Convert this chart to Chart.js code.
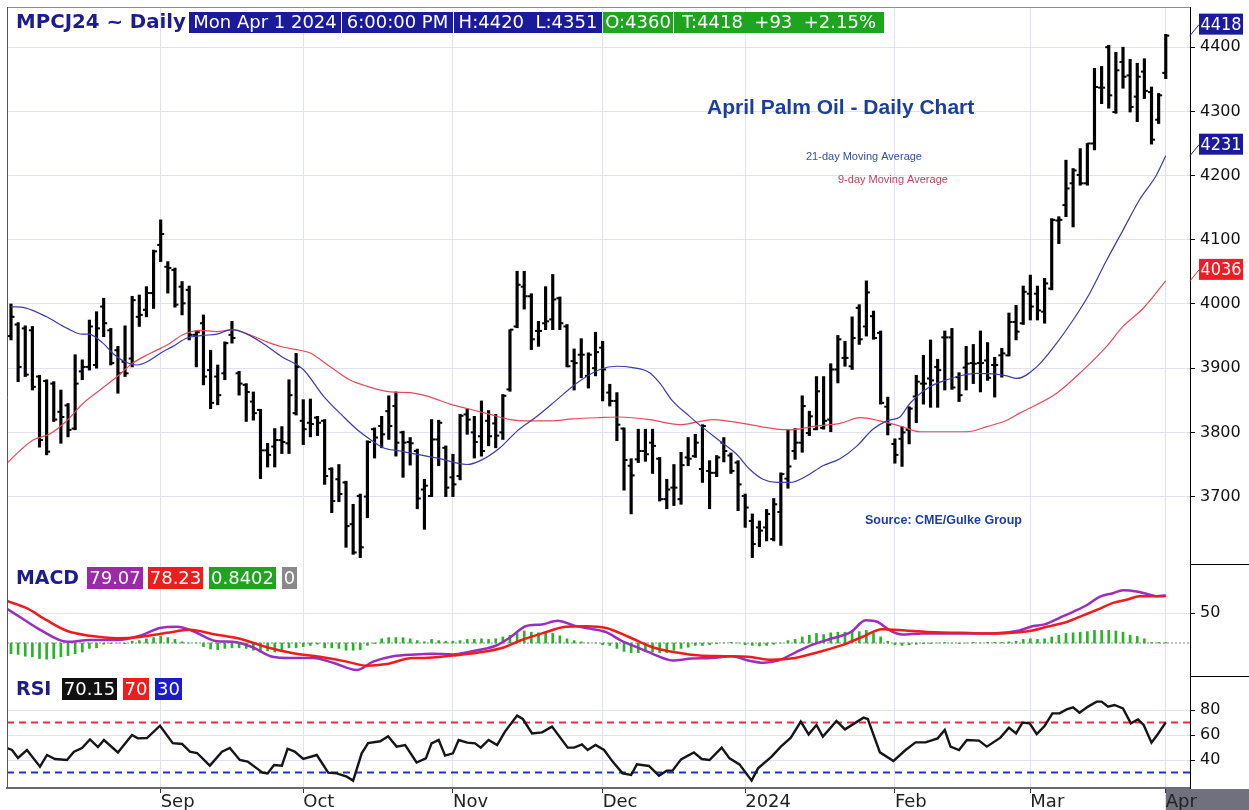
<!DOCTYPE html>
<html lang="en">
<head>
<meta charset="UTF-8">
<title>April Palm Oil - Daily Chart</title>
<script src="https://cdn.jsdelivr.net/npm/chart.js"></script>
<style>
    html, body { margin: 0; padding: 0; background: #fff; }
    canvas { display: block; }
</style>
</head>
<body>
<canvas id="chart" width="1249" height="810"></canvas>
<script>
// daily bars, mid Aug 2023 .. Apr 1 2024 (index 0 = first bar)
const opens = [
    3950, 3968, 3962, 3959, 3887, 3880, 3876, 3832, 3842, 3806,
    3895, 3902, 3905, 3996, 3959, 3928, 3910, 3915, 3980, 3991,
    4017, 4092, 4058, 4053, 4027, 4022, 3952, 3970, 3897, 3887,
    3892, 3952, 3892, 3874, 3848, 3835, 3772, 3778, 3788, 3783,
    3830, 3818, 3815, 3823, 3818, 3743, 3727, 3722, 3657, 3701,
    3700, 3805, 3810, 3833, 3841, 3800, 3785, 3771, 3711, 3701,
    3789, 3776, 3730, 3732, 3828, 3800, 3794, 3818, 3814, 3800,
    3867, 3965, 4027, 4012, 3958, 3970, 3976, 4009, 3965, 3911,
    3921, 3888, 3900, 3932, 3862, 3849, 3806, 3748, 3758, 3771,
    3784, 3759, 3696, 3714, 3696, 3761, 3763, 3743, 3740, 3737,
    3784, 3764, 3753, 3701, 3662, 3652, 3652, 3634, 3676, 3728,
    3771, 3784, 3799, 3805, 3807, 3820, 3898, 3916, 3903, 3994,
    3965, 3981, 3955, 3840, 3782, 3790, 3804, 3856, 3876, 3884,
    3902, 3948, 3948, 3886, 3901, 3908, 3908, 3912, 3905, 3920,
    3920, 3972, 3970, 4016, 4016, 3988, 4024, 4130, 4154, 4188,
    4201, 4188, 4250, 4337, 4400, 4299, 4377, 4356, 4323, 4362,
    4330, 4287, 4360
];
const highs = [
    4000, 3971, 3966, 3965, 3889, 3882, 3879, 3866, 3845, 3921,
    3913, 3975, 3988, 4009, 3962, 3934, 3966, 4012, 4014, 4027,
    4084, 4131, 4066, 4056, 4035, 4028, 3957, 3983, 3928, 3905,
    3941, 3973, 3895, 3876, 3863, 3836, 3783, 3806, 3809, 3882,
    3923, 3851, 3852, 3825, 3820, 3745, 3750, 3724, 3688, 3704,
    3787, 3807, 3825, 3857, 3863, 3802, 3792, 3774, 3727, 3820,
    3819, 3779, 3766, 3828, 3837, 3825, 3849, 3834, 3828, 3859,
    3960, 4051, 4051, 4016, 3973, 4027, 4046, 4011, 3968, 3930,
    3946, 3924, 3956, 3942, 3875, 3862, 3807, 3759, 3805, 3805,
    3805, 3761, 3727, 3750, 3769, 3792, 3797, 3812, 3756, 3764,
    3792, 3768, 3756, 3704, 3673, 3662, 3680, 3697, 3737, 3804,
    3806, 3857, 3833, 3887, 3887, 3907, 3951, 3942, 3980, 3999,
    4036, 3989, 3958, 3855, 3790, 3809, 3840, 3889, 3920, 3944,
    3914, 3958, 3962, 3893, 3934, 3937, 3958, 3940, 3917, 3931,
    3986, 3998, 4028, 4045, 4028, 4040, 4133, 4136, 4224, 4211,
    4242, 4250, 4367, 4370, 4403, 4392, 4400, 4381, 4375, 4382,
    4338, 4328, 4420
];
const lows = [
    3944, 3879, 3887, 3866, 3777, 3765, 3817, 3783, 3793, 3804,
    3882, 3897, 3900, 3949, 3905, 3861, 3887, 3902, 3965, 3980,
    3993, 4066, 4017, 3995, 3983, 3944, 3902, 3874, 3837, 3843,
    3882, 3939, 3858, 3817, 3819, 3728, 3746, 3746, 3767, 3767,
    3827, 3781, 3793, 3795, 3719, 3675, 3692, 3621, 3610, 3605,
    3667, 3760, 3776, 3789, 3763, 3730, 3749, 3681, 3649, 3700,
    3748, 3700, 3700, 3726, 3797, 3760, 3763, 3779, 3776, 3789,
    3864, 3963, 3992, 3929, 3934, 3960, 3960, 3960, 3902, 3866,
    3885, 3869, 3888, 3849, 3841, 3787, 3710, 3673, 3753, 3755,
    3736, 3693, 3681, 3686, 3688, 3748, 3761, 3722, 3681, 3731,
    3754, 3736, 3678, 3652, 3605, 3622, 3631, 3631, 3624, 3713,
    3758, 3769, 3795, 3804, 3805, 3801, 3877, 3903, 3898, 3937,
    3950, 3945, 3844, 3796, 3752, 3747, 3782, 3815, 3844, 3839,
    3839, 3866, 3867, 3848, 3866, 3876, 3863, 3881, 3855, 3886,
    3919, 3944, 3968, 3975, 3975, 3970, 4022, 4094, 4136, 4120,
    4185, 4185, 4240, 4312, 4305, 4297, 4336, 4299, 4284, 4320,
    4249, 4281, 4351
];
const closes = [
    3980, 3902, 3890, 3871, 3788, 3770, 3820, 3824, 3804, 3876,
    3902, 3965, 3962, 3970, 3908, 3892, 3892, 4006, 3983, 4017,
    4082, 4109, 4056, 3999, 4001, 3952, 3956, 3887, 3846, 3858,
    3939, 3947, 3876, 3863, 3830, 3772, 3765, 3788, 3785, 3858,
    3902, 3805, 3813, 3815, 3732, 3693, 3704, 3654, 3613, 3621,
    3785, 3792, 3797, 3810, 3784, 3784, 3783, 3697, 3717, 3789,
    3815, 3714, 3719, 3826, 3820, 3785, 3771, 3794, 3795, 3857,
    3960, 4030, 4012, 3945, 3958, 3973, 4007, 3970, 3903, 3908,
    3921, 3921, 3925, 3898, 3849, 3812, 3757, 3733, 3771, 3766,
    3779, 3696, 3711, 3714, 3749, 3759, 3784, 3810, 3737, 3761,
    3771, 3740, 3719, 3683, 3626, 3647, 3673, 3688, 3735, 3747,
    3784, 3841, 3825, 3864, 3818, 3898, 3945, 3916, 3947, 3945,
    4018, 3947, 3846, 3812, 3765, 3800, 3837, 3879, 3876, 3881,
    3897, 3948, 3870, 3858, 3907, 3907, 3908, 3885, 3905, 3923,
    3972, 3957, 4019, 3996, 3990, 4032, 4131, 4131, 4180, 4208,
    4188, 4250, 4338, 4337, 4325, 4364, 4354, 4307, 4354, 4332,
    4256, 4325, 4418
];
const macdHist = [
    -18, -19, -22, -23, -26, -27, -26, -23, -21, -18,
    -15, -9, -8, -2, -1, 0, -1, 3, 4, 7,
    9, 11, 9, 6, 2, 0, 0, -6, -10, -11,
    -9, -8, -8, -9, -12, -15, -13, -15, -11, -8,
    -8, -6, -4, -2, -8, -8, -9, -12, -12, -11,
    -4, -1, 7, 9, 9, 9, 7, 4, 2, 6,
    4, 3, 3, 4, 6, 6, 7, 6, 7, 10,
    13, 16, 20, 18, 17, 16, 16, 12, 7, 4,
    2, 0, 0, -3, -4, -9, -14, -16, -16, -14,
    -15, -16, -16, -12, -9, -7, -4, -4, -3, -1,
    0, 1, 0, -3, -4, -5, -4, -2, 0, 4,
    6, 10, 13, 16, 14, 17, 18, 18, 20, 19,
    21, 17, 10, 3, -3, -4, -3, -2, -1, -1,
    0, 1, 0, -1, 0, 1, 0, 1, 1, 1,
    2, 3, 6, 7, 6, 7, 10, 13, 16, 17,
    18, 19, 21, 21, 21, 20, 18, 13, 11, 7,
    1, 1, 0.8402
];

// [bar index, value]
const ma21 = [
    [0, 3996], [2, 3994], [5, 3980], [7.9, 3962], [10, 3953], [10.9, 3953], [12.9, 3939], [14.3, 3923],
    [16, 3910], [17.7, 3905], [19.1, 3910], [20.9, 3923], [22.7, 3934], [24.7, 3947], [26.9, 3951],
    [28.9, 3953], [31, 3960], [33.1, 3953], [35.3, 3939], [38, 3918], [41, 3898], [43.8, 3857],
    [46.6, 3825], [48.5, 3805], [50.4, 3789], [52.2, 3776], [54.6, 3771], [56.4, 3767], [58.8, 3762],
    [60.6, 3758], [62.6, 3752], [64, 3750], [66.2, 3758], [68.6, 3776], [71, 3802], [73.8, 3825],
    [76.6, 3851], [79.4, 3877], [82.6, 3898], [85, 3903], [87.2, 3901], [89.6, 3893], [91, 3877],
    [92.8, 3849], [95.2, 3825], [97.1, 3807], [99.4, 3787], [101.8, 3766], [103.6, 3743], [105.5, 3727],
    [107.4, 3722], [109.3, 3722], [111.6, 3732], [113.9, 3748], [116.3, 3759], [118.7, 3779],
    [120.9, 3805], [122.9, 3818], [124.7, 3824], [126.1, 3845], [128.9, 3871], [131.3, 3882],
    [133.5, 3889], [135.5, 3892], [137.7, 3891], [139.7, 3888], [141.1, 3884], [143.9, 3902],
    [146.7, 3939], [149, 3975], [151.3, 4016], [153.7, 4068], [156, 4115], [158.3, 4162],
    [160.7, 4201], [162, 4231]
];
const ma9 = [
    [-0.56, 3752], [1.3, 3772], [3.1, 3788], [5.5, 3798], [7.9, 3819], [10.1, 3845], [12.5, 3866],
    [14.9, 3887], [17.1, 3908], [19.5, 3923], [21.9, 3936], [24.1, 3952], [26.5, 3959], [28.9, 3957],
    [31.1, 3960], [33.5, 3952], [35.9, 3941], [38.1, 3933], [40.5, 3928], [41.9, 3924], [44.7, 3903],
    [47.5, 3882], [49.9, 3872], [53.2, 3863], [56, 3862], [58.8, 3855], [61.6, 3844], [64.4, 3836],
    [67.2, 3828], [70, 3820], [72.8, 3818], [75.6, 3818], [78.8, 3821], [82.6, 3823], [85.4, 3824],
    [89.6, 3820], [93.8, 3812], [98.5, 3820], [102.7, 3814], [107.4, 3805], [109.3, 3804], [113, 3810],
    [116.3, 3814], [119.1, 3823], [121.9, 3818], [124.7, 3810], [127.5, 3801], [131.3, 3801],
    [134.1, 3801], [136.9, 3809], [139.7, 3819], [141.5, 3830], [146.7, 3861], [150.4, 3897],
    [153.7, 3934], [156, 3965], [158.8, 3993], [162, 4036]
];
const macdLine = [
    [-0.56, 57], [1.3, 43], [4.1, 22], [7.9, 2], [11.1, 5], [14.9, 5], [18.1, 12], [20.9, 25],
    [23.3, 27], [25.5, 20], [28.9, 3], [31.1, 2], [33.9, -7], [36.7, -23], [39.1, -25], [42.4, -25],
    [45.2, -33], [48.5, -45], [50.8, -31], [53.6, -22], [56.8, -19], [59, -18], [62, -19], [64.5, -14],
    [67.9, -5], [70.1, 10], [72.2, 28], [74.5, 31], [76.7, 37], [79, 29], [81.2, 24], [83.5, 18],
    [85.6, 4], [87.8, -7], [90, -18], [92.8, -29], [95.5, -26], [98.3, -25], [101.1, -22], [103.4, -29],
    [105.6, -33], [107.7, -29], [110, -16], [112.2, -4], [115, 7], [117.8, 18], [119.9, 38], [121.6, 35],
    [123.3, 21], [125, 14], [127.8, 16], [131, 16], [134.4, 16], [137.7, 16], [141.5, 21], [143.3, 28],
    [145, 31], [147.1, 42], [149, 52], [150.9, 63], [152.7, 77], [154.6, 83], [156, 88], [157.9, 86],
    [159.3, 82], [160.7, 78], [162, 79.07]
];
const signalLine = [
    [-0.56, 70], [2.2, 58], [5, 38], [7.9, 20], [11.1, 12], [14.9, 8], [18.1, 10], [21.9, 17],
    [25.1, 22], [28.3, 15], [32.1, 7], [35.9, -7], [39.6, -17], [43.3, -23], [47.1, -31], [49.9, -38],
    [52.7, -35], [56.4, -25], [57.9, -25], [62, -21], [65.6, -16], [69, -8], [71.2, 3], [74.5, 16],
    [77.8, 27], [80.6, 28], [83.5, 25], [86.7, 10], [90, -7], [93.4, -16], [96.6, -21], [100, -22],
    [103.4, -23], [106.7, -28], [110, -25], [113.3, -15], [116.7, -3], [119.4, 10], [122.2, 23],
    [125.5, 21], [129.5, 18], [133.2, 17], [137.2, 16], [141.5, 18], [143.3, 21], [145.3, 27],
    [148.1, 35], [150.4, 46], [152.7, 57], [154.6, 67], [156.5, 72], [158.3, 78], [160.2, 78],
    [162, 78.23]
];
const rsiLine = [
    [-0.56, 49.6], [0.14, 48], [0.98, 41.6], [2.24, 48], [4.07, 34.7], [5.05, 44], [6.17, 40.8],
    [7.85, 40], [8.84, 46.7], [9.96, 49.6], [11.08, 56.5], [12.2, 50.4], [13.04, 56], [15, 46],
    [16.97, 60], [17.8, 57.3], [19.07, 57.6], [20.9, 67.4], [22.7, 53.5], [24, 52.8], [25.1, 46.7],
    [26.1, 45.6], [27.9, 35.5], [29.6, 46.7], [30.7, 49.6], [32.1, 40], [33.2, 38.7], [35.3, 29.9],
    [36, 29.3], [36.9, 36], [38, 35.5], [38.8, 49], [39.8, 46.7], [41, 40.8], [42.9, 44], [44.5, 29.9],
    [45.7, 29.3], [47.1, 26.7], [48, 23.5], [49.2, 45.3], [50.1, 53.6], [51.8, 55], [52.9, 59],
    [54.1, 50.7], [55.3, 52], [56.9, 38], [58.2, 41.3], [59, 53.3], [60, 56], [60.9, 43.5], [62, 45.3],
    [62.8, 56], [64, 53.9], [65.1, 53.3], [65.9, 49.9], [67, 56], [68.2, 52], [69.3, 62.7], [71, 75.5],
    [71.8, 72.8], [73.1, 61.3], [74.5, 62.1], [75.9, 66.7], [78.1, 49.9], [79, 49.9], [80.1, 52.5],
    [80.9, 48], [82, 52], [83.2, 48], [84.4, 38.7], [85.8, 29.3], [87, 28], [87.8, 36.5], [89.5, 35.2],
    [90.9, 27.5], [92, 31.5], [92.8, 31.5], [94, 40.5], [95.8, 46.1], [96.9, 40.8], [98, 40],
    [99.7, 49.9], [100.8, 41.3], [102.2, 36.5], [103.9, 23.5], [104.8, 33.3], [106.7, 42.7], [108, 50.7],
    [109.4, 57.9], [110.8, 70.7], [111.9, 60.5], [113, 68], [113.9, 58.7], [115.8, 71.2], [117, 64.5],
    [119.6, 73.9], [120.2, 72.8], [121.9, 46.1], [123.8, 39.2], [125.5, 48], [126.9, 54.1], [128.3, 54.1],
    [130, 57.3], [131, 64], [131.8, 50.7], [133, 48], [134.1, 56], [135.8, 55.5], [136.9, 50.7],
    [138.8, 57.9], [140, 65.9], [141, 61.3], [141.9, 69.9], [142.9, 69.3], [143.9, 60.8], [145, 67.2],
    [146.1, 77.3], [147.1, 77.3], [148.1, 80.5], [149, 82.1], [149.9, 77.9], [151.1, 82.7], [152.3, 86.7],
    [153, 86.7], [153.9, 82.7], [154.8, 84], [156, 81.3], [157.1, 69.3], [158.1, 72.5], [158.9, 68],
    [160, 53.9], [160.9, 60.8], [162, 70.15]
];

const monthTicks = [21, 41, 62, 83, 103, 124, 143, 162];
const monthLabels = ['Sep', 'Oct', 'Nov', 'Dec', '2024', 'Feb', 'Mar', 'Apr'];
const priceTicks = [3700, 3800, 3900, 4000, 4100, 4200, 4300, 4400];
const macdTicks = [50];
const rsiTicks = [40, 60, 80];
const rsiLevels = [70, 30];

const X_MIN = -0.56, X_MAX = 165.4;
const GRID = '#e0e2ef';
const NAVY = '#1a1a9a';
const FONT = '"DejaVu Sans", sans-serif';
Chart.defaults.font.family = FONT;

const last = closes.length - 1;
const pts = arr => arr.map(p => ({x: p[0], y: p[1]}));
const flat = v => [{x: X_MIN, y: v}, {x: X_MAX, y: v}];

function box(c, text, x0, x1, y0, y1, bg, fg, font) {
    if (bg) {
        c.fillStyle = bg;
        c.fillRect(x0, y0, x1 - x0, y1 - y0);
    }
    c.fillStyle = fg;
    c.font = font;
    c.textAlign = 'center';
    c.textBaseline = 'middle';
    c.fillText(text, (x0 + x1) / 2, (y0 + y1) / 2 + 1, x1 - x0 - 3);
}
function txt(c, text, x, y, w, color, font) {
    c.fillStyle = color;
    c.font = font;
    c.textAlign = 'left';
    c.textBaseline = 'middle';
    c.fillText(text, x, y, w);
}

const overlay = {
    id: 'overlay',
    beforeDraw(chart) {
        const c = chart.ctx, a = chart.chartArea;
        const xa = chart.scales.x.getPixelForValue(monthTicks[monthTicks.length - 1]);
        c.save();
        c.fillStyle = '#fff';
        c.fillRect(0, 0, chart.width, chart.height);
        c.fillStyle = '#70707e';
        c.fillRect(xa, a.bottom + 1, chart.width - xa, chart.height - a.bottom);
        c.restore();
    },
    afterDraw(chart) {
        const c = chart.ctx, a = chart.chartArea, s = chart.scales;
        c.save();
        c.lineWidth = 1;
        c.strokeStyle = '#8c8c8c';
        c.beginPath(); c.moveTo(a.left, a.top + 0.5); c.lineTo(a.right, a.top + 0.5); c.stroke();
        c.strokeStyle = '#555';
        c.beginPath(); c.moveTo(a.left + 0.5, a.top); c.lineTo(a.left + 0.5, a.bottom); c.stroke();
        c.strokeStyle = '#000';
        [s.yM.top, s.yR.top].forEach(y => {
            c.beginPath(); c.moveTo(a.right, Math.round(y) + 0.5); c.lineTo(chart.width, Math.round(y) + 0.5); c.stroke();
        });

        // header line
        const chg = closes[last] - closes[last - 1];
        const pct = (chg / closes[last - 1] * 100).toFixed(2);
        const hf = '18px ' + FONT, green = '#1ea41e';
        txt(c, 'MPCJ24 ~ Daily', 16, 23, 170, '#1c1c8e', 'bold 20px ' + FONT);
        box(c, 'Mon Apr 1 2024', 189, 341, 12, 33, NAVY, '#fff', hf);
        box(c, '6:00:00 PM', 342, 453, 12, 33, NAVY, '#fff', hf);
        box(c, 'H:' + highs[last] + '  L:' + lows[last], 454, 602, 12, 33, NAVY, '#fff', hf);
        box(c, 'O:' + opens[last], 603, 673, 12, 33, green, '#fff', hf);
        box(c, 'T:' + closes[last] + '  +' + chg + '  +' + pct + '%', 674, 884, 12, 33, green, '#fff', hf);

        // indicator legends
        txt(c, 'MACD', 16, 579, 63, '#1c1c8e', 'bold 19px ' + FONT);
        box(c, macdLine[macdLine.length - 1][1].toFixed(2), 87, 143, 567, 589, '#9a2aa8', '#fff', hf);
        box(c, signalLine[signalLine.length - 1][1].toFixed(2), 148, 203, 567, 589, '#ee1c1c', '#fff', hf);
        box(c, macdHist[last].toFixed(4), 209, 276, 567, 589, green, '#fff', hf);
        box(c, '0', 282, 297, 567, 589, '#8a8a8a', '#fff', hf);
        txt(c, 'RSI', 16, 690, 38, '#1c1c8e', 'bold 19px ' + FONT);
        box(c, rsiLine[rsiLine.length - 1][1].toFixed(2), 62, 117, 678, 700, '#111', '#fff', hf);
        box(c, String(rsiLevels[0]), 123, 149, 678, 700, '#ee1c1c', '#fff', hf);
        box(c, String(rsiLevels[1]), 155, 182, 678, 700, '#1c1ccc', '#fff', hf);

        // annotations
        const lib = '"Liberation Sans", Arial, sans-serif';
        txt(c, 'April Palm Oil - Daily Chart', 707, 108, 271, '#1c3f9e', 'bold 21px ' + lib);
        txt(c, '21-day Moving Average', 806, 157, 118, '#2f4fa8', '11px ' + lib);
        txt(c, '9-day Moving Average', 838, 180, 113, '#c0405c', '11px ' + lib);
        txt(c, 'Source: CME/Gulke Group', 865, 521, 166, '#1c3f9e', 'bold 12.5px ' + lib);

        // last-value tags on the price axis
        const tags = [
            [closes[last], NAVY],
            [ma21[ma21.length - 1][1], NAVY],
            [ma9[ma9.length - 1][1], '#ee1c24']
        ];
        tags.forEach(([v, col]) => {
            const y = s.yP.getPixelForValue(v);
            c.strokeStyle = col;
            c.lineWidth = 1;
            c.beginPath(); c.moveTo(a.right, y); c.lineTo(a.right + 9, y - 11); c.stroke();
            box(c, String(Math.round(v)), a.right + 9, a.right + 53, y - 22, y - 1, col, '#fff', '17px ' + FONT);
        });
        c.restore();
    }
};

const yAxis = (ticks, weight, min, max) => ({
    type: 'linear',
    position: 'right',
    stack: 'panes',
    stackWeight: weight,
    min: min,
    max: max,
    afterBuildTicks: s => { s.ticks = ticks.map(v => ({value: v})); },
    afterFit: s => { s.width = 59; s.paddingTop = 0; s.paddingBottom = 0; },
    grid: {color: GRID, tickColor: '#000', tickLength: 5, lineWidth: 1},
    border: {color: '#000', width: 1},
    ticks: {color: '#111', padding: 5, font: {size: 16}, callback: v => String(v)}
});

new Chart(document.getElementById('chart'), {
    type: 'line',
    data: {
        datasets: [
            {type: 'line', data: pts(ma21), yAxisID: 'yP', borderColor: '#3c3ca6', borderWidth: 1.2,
             pointRadius: 0, cubicInterpolationMode: 'monotone', order: 0},
            {type: 'line', data: pts(ma9), yAxisID: 'yP', borderColor: '#e6495b', borderWidth: 1.2,
             pointRadius: 0, cubicInterpolationMode: 'monotone', order: 0},
            {type: 'bar', data: highs.map((h, i) => ({x: i, y: [lows[i], h]})), yAxisID: 'yP',
             backgroundColor: '#000', barThickness: 2.5, grouped: false, order: 1},
            {type: 'line', data: opens.map((v, i) => ({x: i, y: v})), yAxisID: 'yP', showLine: false,
             pointStyle: 'dash', pointRotation: 180, pointRadius: 3.5, pointBorderWidth: 2,
             pointBorderColor: '#000', order: 1},
            {type: 'line', data: closes.map((v, i) => ({x: i, y: v})), yAxisID: 'yP', showLine: false,
             pointStyle: 'dash', pointRotation: 0, pointRadius: 3.5, pointBorderWidth: 2,
             pointBorderColor: '#000', order: 1},

            {type: 'line', data: flat(0), yAxisID: 'yM', borderColor: '#888', borderWidth: 1,
             borderDash: [2, 2], pointRadius: 0, order: 3},
            {type: 'bar', data: macdHist.map((v, i) => ({x: i, y: v})), yAxisID: 'yM',
             backgroundColor: '#27b527', barThickness: 2, grouped: false, order: 2},
            {type: 'line', data: pts(signalLine), yAxisID: 'yM', borderColor: '#ee1c1c', borderWidth: 2.5,
             pointRadius: 0, cubicInterpolationMode: 'monotone', order: 0},
            {type: 'line', data: pts(macdLine), yAxisID: 'yM', borderColor: '#9b2dbf', borderWidth: 2.5,
             pointRadius: 0, cubicInterpolationMode: 'monotone', order: 0},

            {type: 'line', data: flat(rsiLevels[0]), yAxisID: 'yR', borderColor: '#ee2a3c', borderWidth: 2,
             borderDash: [7, 5], pointRadius: 0, order: 2},
            {type: 'line', data: flat(rsiLevels[1]), yAxisID: 'yR', borderColor: '#2430cc', borderWidth: 2,
             borderDash: [7, 5], pointRadius: 0, order: 2},
            {type: 'line', data: pts(rsiLine), yAxisID: 'yR', borderColor: '#151515', borderWidth: 2.4,
             pointRadius: 0, tension: 0, order: 0}
        ]
    },
    options: {
        responsive: false,
        animation: false,
        devicePixelRatio: 1,
        events: [],
        layout: {autoPadding: false, padding: {left: 7, top: 7, right: 0, bottom: 0}},
        plugins: {legend: {display: false}, tooltip: {enabled: false}},
        scales: {
            x: {
                type: 'linear',
                min: X_MIN,
                max: X_MAX,
                offset: false,
                afterBuildTicks: s => { s.ticks = monthTicks.map(v => ({value: v})); },
                afterFit: s => { s.height = 22; s.paddingLeft = 0; s.paddingRight = 0; },
                grid: {color: GRID, tickColor: '#333', tickLength: 5, offset: false},
                border: {color: '#6a6a6a', width: 2},
                ticks: {color: '#222', padding: -1, align: 'start', autoSkip: false, maxRotation: 0,
                        font: {size: 18}, callback: (v, i) => monthLabels[i]}
            },
            yP: yAxis(priceTicks, 557, 3595, 4462.6),
            yM: yAxis(macdTicks, 112, -55, 131.7),
            yR: yAxis(rsiTicks, 112, 17.6, 107.2)
        }
    },
    plugins: [overlay]
});
</script>
</body>
</html>
